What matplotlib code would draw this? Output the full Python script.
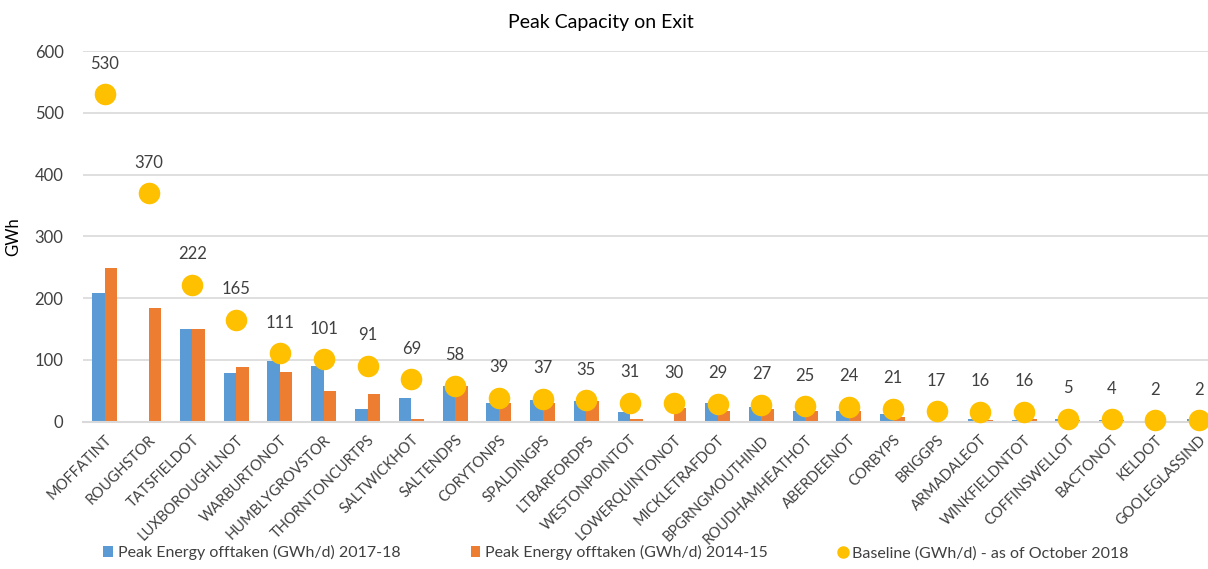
import numpy as np
import matplotlib.pyplot as plt

plt.rcParams['font.family'] = ['Lato', 'DejaVu Sans']

# Данные
sites = ['MOFFATINT', 'ROUGHSTOR', 'TATSFIELDOT', 'LUXBOROUGHLNOT', 'WARBURTONOT',
         'HUMBLYGROVSTOR', 'THORNTONCURTPS', 'SALTWICKHOT', 'SALTENDPS', 'CORYTONPS',
         'SPALDINGPS', 'LTBARFORDPS', 'WESTONPOINTOT', 'LOWERQUINTONOT', 'MICKLETRAFDOT',
         'BPGRNGMOUTHIND', 'ROUDHAMHEATHOT', 'ABERDEENOT', 'CORBYPS', 'BRIGGPS',
         'ARMADALEOT', 'WINKFIELDNTOT', 'COFFINSWELLOT', 'BACTONOT', 'KELDOT',
         'GOOLEGLASSIND']
peak_2017 = [209, 0, 150, 79, 98, 90, 20, 38, 58, 31, 35, 33, 15, 0, 31,
             24, 18, 17, 13, 0, 4, 2, 4, 2, 0, 4]
peak_2014 = [249, 184, 150, 88, 81, 50, 45, 4, 58, 31, 31, 33, 4, 22, 18,
             21, 18, 18, 8, 0, 2, 4, 2, 2, 0, 0]
baseline = [530, 370, 222, 165, 111, 101, 91, 69, 58, 39, 37, 35, 31, 30, 29,
            27, 25, 24, 21, 17, 16, 16, 5, 4, 2, 2]

blue = '#5B9BD5'
orange = '#ED7D31'
yellow = '#FFC000'
grid_col = '#D9D9D9'
txt = '#404040'

fig = plt.figure(figsize=(12.08, 5.69), dpi=100)
ax = fig.add_axes([83 / 1208, 1 - 421.7 / 569, 1138 / 1208, 370.5 / 569])

x = np.arange(len(sites))
w = 0.286
b1 = ax.bar(x - w / 2, peak_2017, w, color=blue, label='Peak Energy offtaken (GWh/d) 2017-18', zorder=2)
b2 = ax.bar(x + w / 2, peak_2014, w, color=orange, label='Peak Energy offtaken (GWh/d) 2014-15', zorder=2)
p, = ax.plot(x, baseline, 'o', color=yellow, markersize=14.5, linestyle='none',
             label='Baseline (GWh/d) - as of October 2018', zorder=3, clip_on=False)

for xi, v in zip(x, baseline):
    ax.annotate(str(v), (xi, v), xytext=(0, 22), textcoords='offset points',
                ha='center', va='center', fontsize=12, color=txt)

ax.set_xlim(-0.5, len(sites) - 0.5)
ax.set_ylim(0, 600)
ax.set_yticks(range(0, 601, 100))
ax.yaxis.grid(True, color=grid_col, linewidth=1.2, zorder=0)
ax.set_axisbelow(True)
for s in ['top', 'right', 'left']:
    ax.spines[s].set_visible(False)
ax.spines['bottom'].set_color(grid_col)
ax.spines['bottom'].set_linewidth(1.5)
ax.tick_params(axis='both', length=0, labelsize=12, colors=txt)
ax.tick_params(axis='y', pad=14)
ax.set_xticks(x)
ax.set_xticklabels(sites, rotation=45, ha='right', rotation_mode='anchor', fontsize=10.5)
ax.tick_params(axis='x', pad=8)

ax.set_ylabel('GWh', fontsize=12, color='black', labelpad=10)
fig.text(0.497, 0.96, 'Peak Capacity on Exit', ha='center', va='center', fontsize=14, color='black')

fig.legend(handles=[b1, b2, p], loc='lower center', bbox_to_anchor=(0.51, -0.01), ncol=3,
           frameon=False, fontsize=11.5, handlelength=0.6, handletextpad=0.3,
           columnspacing=4.4, markerscale=0.55, labelcolor=txt)

plt.savefig('out.png', dpi=100)
